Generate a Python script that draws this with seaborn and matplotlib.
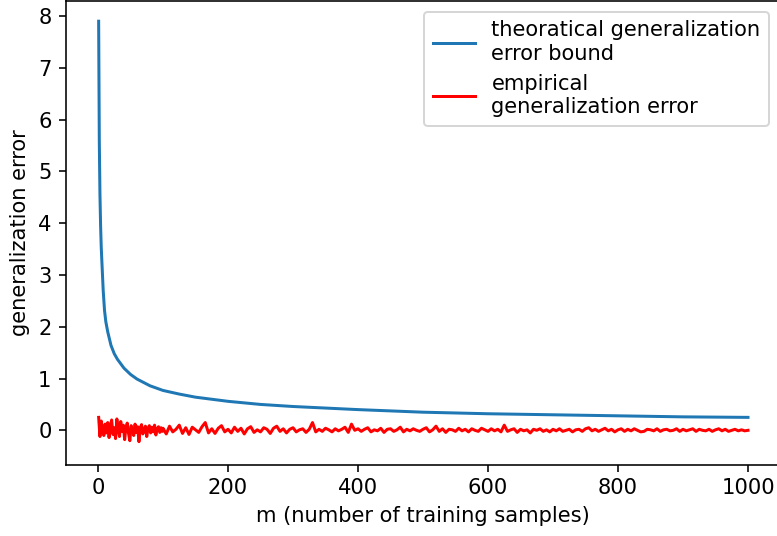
import matplotlib
matplotlib.use("Agg")
import matplotlib.pyplot as plt
import seaborn as sns

# ── Data ──────────────────────────────────────────────────────────────────────
m_bound = [1, 2, 3, 4, 5, 6, 8, 10, 12, 15, 20, 25, 30, 40, 50, 60, 80, 100,
           125, 150, 200, 250, 300, 400, 500, 600, 700, 800, 900, 1000]
bound = [7.90, 5.59, 4.56, 3.95, 3.53, 3.25, 2.70, 2.32, 2.10, 1.90, 1.64, 1.48,
         1.37, 1.20, 1.08, 0.99, 0.86, 0.77, 0.70, 0.64, 0.56, 0.50, 0.46, 0.40,
         0.35, 0.32, 0.30, 0.28, 0.26, 0.25]

m_emp = list(range(1, 100, 2)) + list(range(100, 1001, 5))
emp_early = [
    0.25, -0.12, 0.18, 0.02, -0.10, 0.12, -0.05, 0.15, -0.14, 0.08,
    0.20, -0.08, 0.05, -0.16, 0.22, 0.03, -0.12, 0.17, -0.02, 0.10,
    -0.18, 0.06, 0.14, -0.06, -0.20, 0.09, 0.02, -0.10, 0.12, -0.04,
    0.07, -0.22, 0.05, 0.11, -0.07, 0.02, 0.08, -0.12, 0.04, 0.09,
    -0.05, 0.06, -0.03, 0.10, -0.09, 0.03, 0.07, -0.04, 0.05, -0.02,
]
emp_late = [
    0.04, -0.07, 0.08, -0.03, 0.02, 0.10, -0.06, 0.05, -0.08, 0.06, 0.01, -0.04, 0.07, 0.15, -0.05, 0.03, -0.06, 0.04, 0.09, -0.03,
    0.02, -0.05, 0.06, -0.02, 0.04, -0.07, 0.03, 0.07, -0.04, 0.01, -0.03, 0.05, 0.02, -0.06, 0.04, 0.08, -0.02, 0.03, -0.05, 0.02,
    0.05, -0.03, 0.01, 0.03, -0.04, 0.02, 0.15, -0.03, 0.02, -0.02, 0.04, 0.01, -0.03, 0.03, -0.01, 0.02, 0.06, -0.04, 0.12, 0.00,
    0.03, -0.02, 0.02, 0.05, -0.03, 0.01, -0.01, 0.04, -0.04, 0.02, 0.03, -0.02, 0.01, 0.06, -0.03, 0.02, -0.01, 0.03, 0.00, -0.02,
    0.02, 0.05, -0.03, 0.01, 0.08, -0.02, 0.03, -0.04, 0.02, 0.01, -0.02, 0.04, -0.01, 0.02, -0.03, 0.03, 0.00, -0.02, 0.04, 0.01,
    -0.02, 0.03, -0.01, 0.02, -0.03, 0.10, -0.02, 0.01, 0.03, -0.04, 0.02, -0.01, 0.01, -0.05, 0.02, 0.00, 0.03, -0.02, 0.01, -0.03,
    0.02, -0.01, 0.03, -0.02, 0.00, 0.02, -0.03, 0.01, 0.02, -0.02, 0.03, 0.05, -0.01, 0.02, -0.02, 0.01, 0.04, -0.01, 0.02, -0.03,
    0.01, 0.03, -0.02, 0.02, -0.01, 0.03, 0.00, -0.03, -0.02, 0.02, 0.01, -0.01, 0.03, -0.02, 0.01, 0.02, -0.01, 0.00, 0.03, -0.02,
    0.02, -0.01, 0.01, 0.03, -0.02, 0.02, 0.00, -0.01, 0.02, -0.02, 0.01, 0.03, -0.01, 0.02, -0.02, 0.00, 0.02, -0.01, 0.01, -0.01, 0.00,
]
emp = emp_early + emp_late

# ── Plot ──────────────────────────────────────────────────────────────────────
plt.rcParams["font.family"] = ["DejaVu Sans"]
plt.rcParams["font.size"] = 10.5
fig = plt.figure(figsize=(777 / 144, 536 / 144), dpi=144)
ax = fig.add_axes([65.5 / 777, 1 - 464.5 / 536, 715 / 777, 464 / 536])

sns.lineplot(x=m_bound, y=bound, ax=ax, color="#1f77b4", linewidth=1.5,
             estimator=None, label="theoratical generalization\nerror bound")
sns.lineplot(x=m_emp, y=emp, ax=ax, color="red", linewidth=1.5,
             estimator=None, label="empirical\ngeneralization error")

ax.set_xlim(-50, 1050)
ax.set_ylim(-0.66, 8.3)
ax.set_xticks([0, 200, 400, 600, 800, 1000])
ax.set_yticks(range(0, 9))
ax.set_xlabel("m (number of training samples)")
ax.set_ylabel("generalization error")
ax.legend(loc="upper right", borderaxespad=0.55)

fig.savefig("out.png", dpi=144)
